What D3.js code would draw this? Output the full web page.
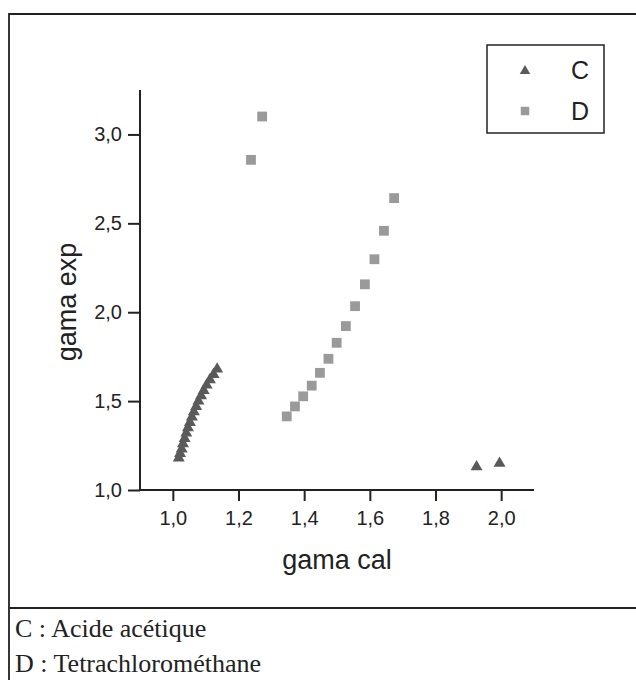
<!DOCTYPE html>
<html>
<head>
<meta charset="utf-8">
<script src="https://cdn.jsdelivr.net/npm/d3@7"></script>
<style>
body{margin:0;background:#fff;}
svg{display:block;}
</style>
</head>
<body>
<div id="main"></div>
<script>
// series C : acide acetique (triangles)
var cCal=[1.018,1.022,1.027,1.031,1.036,1.041,1.046,1.052,1.058,1.064,1.071,1.078,1.086,1.094,1.103,1.113,1.124,1.135,1.925,1.995];
var cExp=[1.18,1.205,1.23,1.26,1.29,1.32,1.35,1.38,1.41,1.44,1.47,1.50,1.53,1.56,1.59,1.62,1.65,1.68,1.13,1.15];
// series D : tetrachloromethane (squares)
var dCal=[1.238,1.272,1.347,1.372,1.397,1.423,1.448,1.474,1.499,1.527,1.555,1.585,1.614,1.643,1.674];
var dExp=[2.857,3.101,1.414,1.470,1.527,1.587,1.659,1.738,1.828,1.922,2.034,2.157,2.298,2.458,2.642];
var xMajor=[1.0,1.2,1.4,1.6,1.8,2.0];
var xMinor=[0.9,1.1,1.3,1.5,1.7,1.9,2.1];
var yMajor=[1.0,1.5,2.0,2.5,3.0];
var yMinor=[1.25,1.75,2.25,2.75,3.25];
var seriesNames=['C','D'];
var notes=['C : Acide acétique','D : Tetrachlorométhane'];

var W=636,H=680;
var svg=d3.select('#main').append('svg').attr('width',W).attr('height',H);

// outer frame (open on the right / bottom)
svg.append('path').attr('d','M9,'+H+'V14H'+W).attr('fill','none').attr('stroke','#222').attr('stroke-width',1.8)
svg.append('line').attr('x1',9).attr('x2',W).attr('y1',608).attr('y2',608).attr('stroke','#222').attr('stroke-width',1.8)

var x=d3.scaleLinear().domain([0.9,2.1]).range([140,534]);
var y=d3.scaleLinear().domain([1.0,3.25]).range([490,90]);
var fmt=function(d){return d3.format('.1f')(d).replace('.',',')};

var gx=svg.append('g').attr('transform','translate(0,490)')
gx.call(d3.axisBottom(x).tickValues(xMinor).tickSize(6).tickFormat(''))
gx.call(d3.axisBottom(x).tickValues(xMajor).tickSize(11).tickPadding(10).tickFormat(fmt))
var gy=svg.append('g').attr('transform','translate(140,0)')
gy.call(d3.axisLeft(y).tickValues(yMinor).tickSize(7).tickFormat(''))
gy.call(d3.axisLeft(y).tickValues(yMajor).tickSize(12).tickPadding(6).tickFormat(fmt))
svg.selectAll('.domain').attr('stroke','#222').attr('stroke-width',2).attr('d',function(){
  return this.parentNode===gx.node()?'M140,0H534':'M0,90V490';
})
svg.selectAll('.tick line').attr('stroke','#222').attr('stroke-width',2)
svg.selectAll('.tick text').attr('fill','#222').style('font-family','Arial, "Liberation Sans", sans-serif').style('font-size','20px')

svg.append('text').attr('x',337).attr('y',569).attr('text-anchor','middle')
  .style('font-family','Arial, "Liberation Sans", sans-serif').style('font-size','27px').attr('fill','#222').text('gama cal')
svg.append('text').attr('transform','translate(76,302) rotate(-90)').attr('text-anchor','middle')
  .style('font-family','Arial, "Liberation Sans", sans-serif').style('font-size','27px').attr('fill','#222').text('gama exp')

var tri=d3.symbol().type(d3.symbolTriangle).size(62);
var sq=d3.symbol().type(d3.symbolSquare).size(96);
svg.append('g').selectAll('path').data(d3.range(cCal.length)).join('path')
  .attr('d',tri).attr('fill','#5a5a5a')
  .attr('transform',function(i){return 'translate('+x(cCal[i])+','+y(cExp[i])+')'})
svg.append('g').selectAll('path').data(d3.range(dCal.length)).join('path')
  .attr('d',sq).attr('fill','#9a9a9a')
  .attr('transform',function(i){return 'translate('+x(dCal[i])+','+y(dExp[i])+')'})

// legend
var leg=svg.append('g');
leg.append('rect').attr('x',487).attr('y',45).attr('width',117).attr('height',88).attr('fill','#fff').attr('stroke','#222').attr('stroke-width',1.5)
leg.selectAll('path').data(seriesNames).join('path')
  .attr('d',function(d,i){return i==0?d3.symbol().type(d3.symbolTriangle).size(48)():d3.symbol().type(d3.symbolSquare).size(72)()})
  .attr('fill',function(d,i){return i==0?'#5a5a5a':'#9a9a9a'})
  .attr('transform',function(d,i){return 'translate(525,'+(i==0?71:111)+')'})
leg.selectAll('text').data(seriesNames).join('text')
  .attr('x',580).attr('y',function(d,i){return i==0?79:120}).attr('text-anchor','middle')
  .style('font-family','Arial, "Liberation Sans", sans-serif').style('font-size','25px').attr('fill','#222').text(function(d){return d})

svg.selectAll('.note').data(notes).join('text').attr('class','note')
  .attr('x',15).attr('y',function(d,i){return 637+i*35})
  .style('font-family','"Liberation Serif", "Times New Roman", serif').style('font-size','26px').attr('fill','#222').text(function(d){return d})
</script>
</body>
</html>
